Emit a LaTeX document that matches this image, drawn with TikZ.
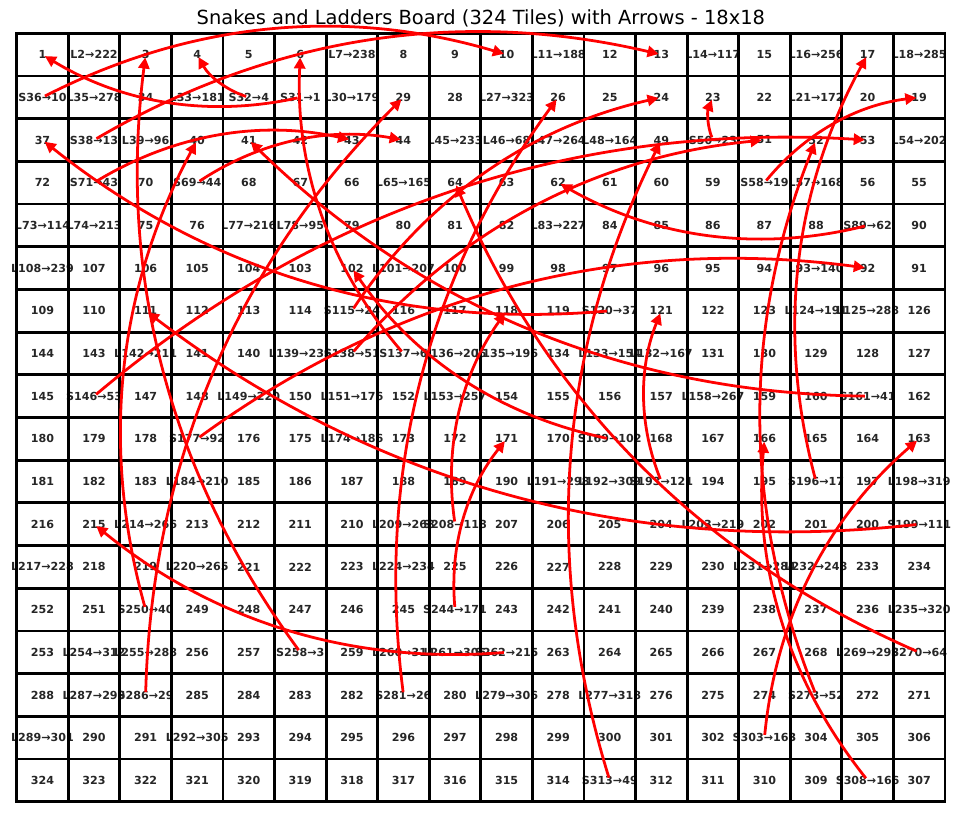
\documentclass[tikz,border=0pt]{standalone}
\usepackage{fontspec}
\setmainfont{DejaVu Sans}
\usetikzlibrary{calc,arrows.meta}
\definecolor{txtgray}{HTML}{262626}
\newcommand\setlab[2]{\expandafter\def\csname slab#1\endcsname{#2}}
% row 0
\setlab{2}{L2→222}\setlab{7}{L7→238}\setlab{11}{L11→188}\setlab{14}{L14→117}\setlab{16}{L16→256}\setlab{18}{L18→285}
% row 1
\setlab{36}{S36→10}\setlab{35}{L35→278}\setlab{33}{L33→181}\setlab{32}{S32→4}\setlab{31}{S31→1}\setlab{30}{L30→179}\setlab{27}{L27→323}\setlab{21}{L21→172}
% row 2
\setlab{38}{S38→13}\setlab{39}{L39→96}\setlab{45}{L45→233}\setlab{46}{L46→68}\setlab{47}{L47→264}\setlab{48}{L48→164}\setlab{50}{S50→23}\setlab{54}{L54→202}
% row 3
\setlab{71}{S71→43}\setlab{69}{S69→44}\setlab{65}{L65→165}\setlab{58}{S58→19}\setlab{57}{L57→168}
% row 4
\setlab{73}{L73→114}\setlab{74}{L74→213}\setlab{77}{L77→216}\setlab{78}{L78→95}\setlab{83}{L83→227}\setlab{89}{S89→62}
% row 5
\setlab{108}{L108→239}\setlab{101}{L101→207}\setlab{93}{L93→140}
% row 6
\setlab{115}{S115→24}\setlab{120}{S120→37}\setlab{124}{L124→191}\setlab{125}{L125→288}
% row 7
\setlab{142}{L142→211}\setlab{139}{L139→236}\setlab{138}{S138→51}\setlab{137}{S137→6}\setlab{136}{L136→206}\setlab{135}{L135→196}\setlab{133}{L133→154}\setlab{132}{L132→167}
% row 8
\setlab{146}{S146→53}\setlab{149}{L149→220}\setlab{151}{L151→176}\setlab{153}{L153→257}\setlab{158}{L158→267}\setlab{161}{S161→41}
% row 9
\setlab{177}{S177→92}\setlab{174}{L174→186}\setlab{169}{S169→102}
% row 10
\setlab{184}{L184→210}\setlab{191}{L191→298}\setlab{192}{L192→309}\setlab{193}{S193→121}\setlab{196}{S196→17}\setlab{198}{L198→319}
% row 11
\setlab{214}{L214→266}\setlab{209}{L209→268}\setlab{208}{S208→118}\setlab{203}{L203→219}\setlab{199}{S199→111}
% row 12
\setlab{217}{L217→228}\setlab{220}{L220→265}\setlab{224}{L224→234}\setlab{231}{L231→284}\setlab{232}{L232→248}
% row 13
\setlab{250}{S250→40}\setlab{244}{S244→171}\setlab{235}{L235→320}
% row 14
\setlab{254}{L254→312}\setlab{255}{L255→288}\setlab{258}{S258→3}\setlab{260}{L260→314}\setlab{261}{L261→305}\setlab{262}{S262→215}\setlab{269}{L269→298}\setlab{270}{S270→64}
% row 15
\setlab{287}{L287→299}\setlab{286}{S286→29}\setlab{281}{S281→26}\setlab{279}{L279→306}\setlab{277}{L277→318}\setlab{273}{S273→52}
% row 16
\setlab{289}{L289→301}\setlab{292}{L292→305}\setlab{303}{S303→163}
% row 17
\setlab{313}{S313→49}\setlab{308}{S308→166}

\newcommand\snakearr[2]{%
  \coordinate (m#1) at ($(t#1.center)!0.5!(t#2.center)!0.4!90:(t#2.center)$);
  \draw[snakearrow] (t#1.center) .. controls ($(t#1.center)!0.6667!(m#1)$) and ($(t#2.center)!0.6667!(m#1)$) .. (t#2.center);
}

\begin{document}
\begin{tikzpicture}[x=0.72pt,y=-0.72pt,
  cell/.style={inner sep=0pt, font=\fontsize{8}{9.6}\selectfont\bfseries, text=txtgray},
  snakearrow/.style={draw=red, line width=2pt, -{Triangle[length=8pt,width=8pt]}, shorten <=2pt, shorten >=2pt},
  gridline/.style={line width=2pt, draw=black, line cap=rect}]
\useasboundingbox (0,0) rectangle (961,813);
\node[font=\fontsize{14}{16.8}\selectfont] (title) at (480.85,18) {Snakes and Ladders Board (324 Tiles) with Arrows - 18x18};
\foreach \n in {1,...,324}{
  \pgfmathtruncatemacro\r{(\n-0.5)/18}
  \pgfmathtruncatemacro\k{\n-1-18*\r}
  \ifodd\r \pgfmathtruncatemacro\c{17-\k}\else \let\c\k \fi
  \node[cell] (t\n) at ({16.7+51.57*(\c+0.5)},{33.3+42.69*(\r+0.5)}) {\ifcsname slab\n\endcsname\csname slab\n\endcsname\else\n\fi};
}
\foreach \i in {0,...,18}{
  \draw[gridline] ({16.7+51.57*\i},33.3) -- ({16.7+51.57*\i},801.7);
  \draw[gridline] (16.7,{33.3+42.69*\i}) -- (945,{33.3+42.69*\i});
}
\snakearr{31}{1}
\snakearr{32}{4}
\snakearr{36}{10}
\snakearr{38}{13}
\snakearr{50}{23}
\snakearr{58}{19}
\snakearr{69}{44}
\snakearr{71}{43}
\snakearr{89}{62}
\snakearr{115}{24}
\snakearr{120}{37}
\snakearr{137}{6}
\snakearr{138}{51}
\snakearr{146}{53}
\snakearr{161}{41}
\snakearr{169}{102}
\snakearr{177}{92}
\snakearr{193}{121}
\snakearr{196}{17}
\snakearr{199}{111}
\snakearr{208}{118}
\snakearr{244}{171}
\snakearr{250}{40}
\snakearr{258}{3}
\snakearr{262}{215}
\snakearr{270}{64}
\snakearr{273}{52}
\snakearr{281}{26}
\snakearr{286}{29}
\snakearr{303}{163}
\snakearr{308}{166}
\snakearr{313}{49}
\end{tikzpicture}
\end{document}
